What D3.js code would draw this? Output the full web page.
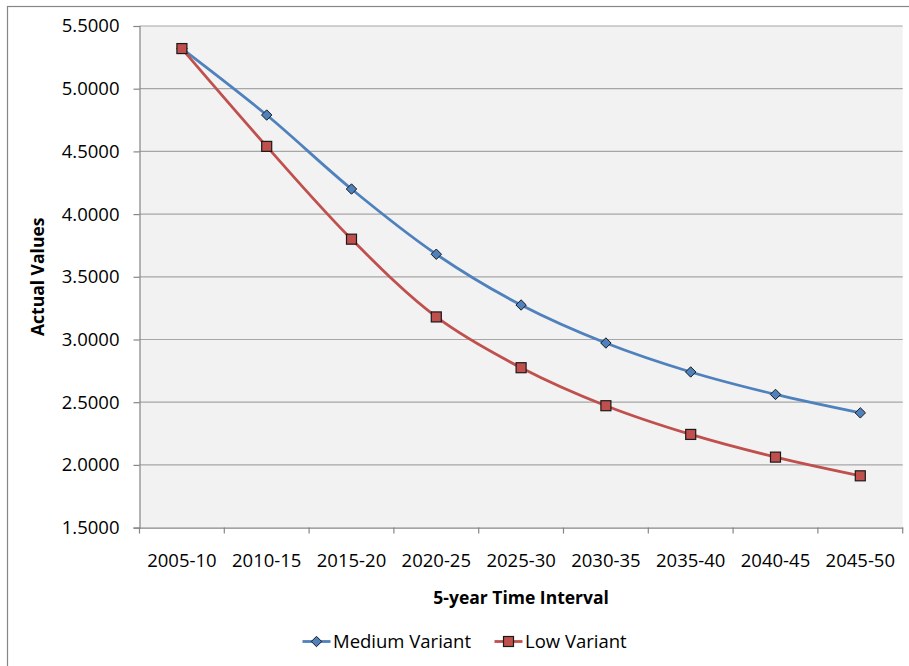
<!DOCTYPE html>
<html>
<head>
<meta charset="utf-8">
<script src="https://cdn.jsdelivr.net/npm/d3@7"></script>
<style>
  html, body { margin: 0; padding: 0; background: #ffffff; }
  svg { display: block; }
  text { font-family: "Open Sans", "Noto Sans", sans-serif; fill: #000; }
</style>
</head>
<body>
<svg id="chart" width="909" height="666"></svg>
<script>
const categories = ["2005-10", "2010-15", "2015-20", "2020-25", "2025-30", "2030-35", "2035-40", "2040-45", "2045-50"];
const mediumVariant = [5.32, 4.79, 4.20, 3.68, 3.275, 2.972, 2.741, 2.562, 2.415];
const lowVariant = [5.32, 4.54, 3.80, 3.18, 2.775, 2.472, 2.243, 2.062, 1.913];
const yTicks = [1.5, 2.0, 2.5, 3.0, 3.5, 4.0, 4.5, 5.0, 5.5];
const seriesNames = ["Medium Variant", "Low Variant"];
const xTitle = "5-year Time Interval";
const yTitle = "Actual Values";

const svg = d3.select("#chart");
const W = 909, H = 666;
const plot = { left: 139.5, top: 26, right: 902.7, bottom: 527.6 };
const colors = ["#4F81BD", "#C0504D"];

// outer chart border (only top/left visible)
svg.append("rect").attr("x", 7.5).attr("y", 6.5).attr("width", 1000).attr("height", 1000)
  .attr("fill", "#fff").attr("stroke", "#868686").attr("stroke-width", 1.2);

const x = d3.scaleBand().domain(categories).range([plot.left, plot.right]).padding(0);
const y = d3.scaleLinear().domain([1.5, 5.5]).range([plot.bottom, plot.top]);

// plot background
svg.append("rect").attr("x", plot.left).attr("y", plot.top)
  .attr("width", plot.right - plot.left).attr("height", plot.bottom - plot.top)
  .attr("fill", "#F2F2F2");

// gridlines
svg.append("g").selectAll("line").data(yTicks.slice(1)).join("line")
  .attr("x1", plot.left).attr("x2", plot.right)
  .attr("y1", d => y(d)).attr("y2", d => y(d))
  .attr("stroke", "#A6A6A6").attr("stroke-width", 1.2);

// y axis
const yAxis = d3.axisLeft(y).tickValues(yTicks).tickSize(6).tickPadding(14)
  .tickFormat(d3.format(".4f"));
const gy = svg.append("g").attr("transform", `translate(${plot.left},0)`).call(yAxis);
gy.select(".domain").attr("stroke", "#868686").attr("stroke-width", 1.2);
gy.selectAll(".tick line").attr("stroke", "#868686").attr("stroke-width", 1.2);
gy.selectAll(".tick text").style("font-size", "18.5px").style("font-family", "'Open Sans', sans-serif").attr("fill", "#000");

// x axis
const xAxis = d3.axisBottom(x).tickSize(0).tickPadding(26);
const gx = svg.append("g").attr("transform", `translate(0,${plot.bottom})`).call(xAxis);
gx.select(".domain").attr("stroke", "#868686").attr("stroke-width", 1.2);
gx.selectAll(".tick text").style("font-size", "18.5px").style("font-family", "'Open Sans', sans-serif").attr("fill", "#000");
// category boundary ticks
const bounds = categories.map(c => x(c)).concat([x(categories[categories.length - 1]) + x.bandwidth()]);
svg.append("g").selectAll("line").data(bounds).join("line")
  .attr("x1", d => d).attr("x2", d => d)
  .attr("y1", plot.bottom).attr("y2", plot.bottom + 6)
  .attr("stroke", "#868686").attr("stroke-width", 1.2);

// axis titles
svg.append("text").attr("x", (plot.left + plot.right) / 2).attr("y", 604)
  .attr("text-anchor", "middle").style("font-size", "17.5px").style("font-weight", "bold")
  .text(xTitle);
svg.append("text").attr("transform", `translate(44,${(plot.top + plot.bottom) / 2}) rotate(-90)`)
  .attr("text-anchor", "middle").style("font-size", "17.5px").style("font-weight", "bold")
  .text(yTitle);

// series
const cx = c => x(c) + x.bandwidth() / 2;
const line = d3.line().x((d, i) => cx(categories[i])).y(d => y(d)).curve(d3.curveCatmullRom.alpha(0.5));
const allSeries = [mediumVariant, lowVariant];
allSeries.forEach((s, k) => {
  svg.append("path").datum(s).attr("d", line).attr("fill", "none")
    .attr("stroke", colors[k]).attr("stroke-width", 2.8).attr("stroke-linejoin", "round");
});

function drawMarker(g, k, px, py) {
  if (k === 0) {
    g.append("path").attr("d", `M${px},${py - 5.2}L${px + 5.2},${py}L${px},${py + 5.2}L${px - 5.2},${py}Z`)
      .attr("fill", colors[0]).attr("stroke", "#1a1a1a").attr("stroke-width", 1);
  } else {
    g.append("rect").attr("x", px - 5).attr("y", py - 5).attr("width", 10).attr("height", 10)
      .attr("fill", colors[1]).attr("stroke", "#1a1a1a").attr("stroke-width", 1.2);
  }
}
allSeries.forEach((s, k) => {
  const g = svg.append("g");
  s.forEach((v, i) => drawMarker(g, k, cx(categories[i]), y(v)));
});

// legend
const legY = 641.5;
const legItems = [{ x0: 302.5, name: seriesNames[0] }, { x0: 494.5, name: seriesNames[1] }];
legItems.forEach((it, k) => {
  const g = svg.append("g");
  g.append("line").attr("x1", it.x0).attr("x2", it.x0 + 28).attr("y1", legY).attr("y2", legY)
    .attr("stroke", colors[k]).attr("stroke-width", 2.8);
  drawMarker(g, k, it.x0 + 14, legY);
  g.append("text").attr("x", it.x0 + 30.5).attr("y", legY).attr("dy", "0.35em")
    .style("font-size", "18.5px").text(it.name);
});
</script>
</body>
</html>
